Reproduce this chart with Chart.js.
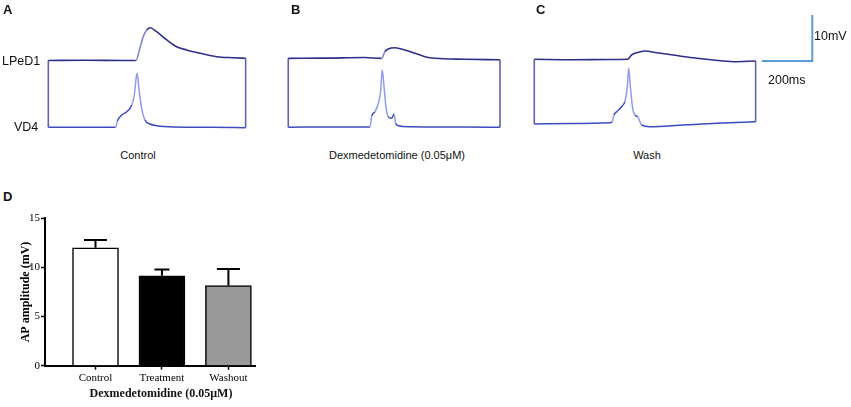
<!DOCTYPE html>
<html>
<head>
<meta charset="utf-8">
<script src="https://cdn.jsdelivr.net/npm/chart.js@4.4.1/dist/chart.umd.min.js"></script>
<style>
    body { margin: 0; background: #fff; }
    #wrap { position: relative; width: 851px; height: 407px; overflow: hidden; }
    canvas { position: absolute; }
    .lbl { position: absolute; font-family: "Liberation Sans", Arial, sans-serif; color: #111; line-height: 1; white-space: nowrap; transform: translateY(-50%); }
    .mid { transform: translate(-50%, -50%); }
    .letter { font-weight: bold; font-size: 13px; }
    .serif { font-family: "Liberation Serif", "Times New Roman", serif; font-weight: bold; font-size: 12px; }
</style>
</head>
<body>
<div id="wrap">
    <canvas id="traces" width="851" height="140" style="left:0;top:0"></canvas>
    <canvas id="bars" width="270" height="202" style="left:0;top:205px"></canvas>

    <div class="lbl letter" style="left:3px;top:9px">A</div>
    <div class="lbl letter" style="left:291px;top:9px">B</div>
    <div class="lbl letter" style="left:536px;top:9px">C</div>
    <div class="lbl letter" style="left:3px;top:196px">D</div>

    <div class="lbl" style="left:2px;top:61px;font-size:12.5px">LPeD1</div>
    <div class="lbl" style="left:14px;top:127px;font-size:12.5px">VD4</div>
    <div class="lbl mid" style="left:138px;top:155px;font-size:11px">Control</div>
    <div class="lbl mid" style="left:397px;top:155px;font-size:11px">Dexmedetomidine (0.05μM)</div>
    <div class="lbl mid" style="left:647px;top:155px;font-size:11px">Wash</div>
    <div class="lbl" style="left:814px;top:36px;font-size:12.5px">10mV</div>
    <div class="lbl" style="left:768px;top:80px;font-size:12.5px">200ms</div>

    <div class="lbl mid serif" style="left:161px;top:393px">Dexmedetomidine (0.05μM)</div>
</div>
<script>
// recordings: [time ms, mV relative to baseline]
const lpedA = [[0, 0], [150, 0.05], [300, 0], [346, 0], [362, 2.65], [375, 5.17], [389, 6.63], [402, 7.13], [428, 6.26], [468, 4.46], [507, 3.0], [547, 2.28], [600, 1.57], [666, 0.83], [731, 0.61], [780, 0.48]];
const vd4A = [[0, 0], [266, 0], [273, 1.37], [290, 2.67], [310, 3.39], [330, 4.85], [340, 7.02], [347, 10.65], [351, 11.74], [358, 8.48], [369, 4.13], [382, 1.59], [402, 0.72], [428, 0.35], [500, 0.07], [640, 0], [780, -0.1]];
const lpedB = [[0, 0.1], [150, 0.15], [300, 0.28], [369, 0.1], [382, 1.54], [395, 2.13], [422, 2.41], [461, 1.91], [501, 1.2], [540, 0.46], [580, 0.11], [700, -0.1], [837, -0.2]];
const vd4B = [[0, -0.05], [200, 0], [323, 0], [330, 2.39], [343, 3.33], [356, 5.15], [365, 7.67], [371.5, 12.39], [378, 9.13], [386, 4.41], [395, 2.24], [409, 1.89], [418, 2.76], [424.5, 0.8], [435, 0.28], [481, 0.07], [700, 0], [837, -0.07]];
const lpedC = [[0, 0.15], [150, 0.05], [300, 0.1], [368, 0.15], [385, 1.09], [405, 1.59], [437, 1.96], [484, 1.59], [549, 1.09], [628, 0.5], [707, 0], [787, -0.37], [875, -0.22]];
const vd4C = [[0, 0], [150, 0.1], [300, 0.28], [308, 0.5], [315, 1.96], [326, 2.67], [345, 3.76], [358, 4.85], [368, 8.11], [373, 12.11], [381, 7.39], [389, 3.41], [398, 1.96], [409, 1.59], [415, 0.87], [424.5, -0.22], [457, -0.59], [589, -0.22], [721, 0.15], [875, 0.5]];
const scaleBarMs = 200;
const scaleBarMv = 10;

// bar chart
const categories = ['Control', 'Treatment', 'Washout'];
const means = [12.0, 9.15, 8.15];
const sems = [0.8, 0.65, 1.7];
const yTicks = [0, 5, 10, 15];

// where each panel sits on the shared trace axes (ms / mV)
const panels = [
    {lped: lpedA, vd4: vd4A, t0: 191, lpedBase: 17.28, vd4Base: 2.76},
    {lped: lpedB, vd4: vd4B, t0: 1139.5, lpedBase: 17.65, vd4Base: 2.83},
    {lped: lpedC, vd4: vd4C, t0: 2112, lpedBase: 17.39, vd4Base: 3.48}
];
const scaleBarAt = {x: 3011, y: 17.17};

function shift(trace, t0, base) {
    return trace.map(p => ({x: p[0] + t0, y: p[1] + base}));
}
function steep(dark, light) {
    return ctx => Math.abs((ctx.p1.y - ctx.p0.y) / (ctx.p1.x - ctx.p0.x || 0.01)) > 1.8 ? light : dark;
}

let traceSets = [];
let edges = [];
panels.forEach(p => {
    let top = shift(p.lped, p.t0, p.lpedBase);
    let bottom = shift(p.vd4, p.t0, p.vd4Base);
    traceSets.push({
        data: top, borderColor: '#2d3088', borderWidth: 1.6,
        cubicInterpolationMode: 'monotone',
        segment: {borderColor: steep('#2d3088', '#7f86cc')}
    });
    traceSets.push({
        data: bottom, borderColor: '#3c4cc0', borderWidth: 1.5,
        cubicInterpolationMode: 'monotone',
        segment: {borderColor: steep('#3c4cc0', '#909ce6')}
    });
    edges.push({x: top[0].x, y: top[0].y}, {x: bottom[0].x, y: bottom[0].y}, {x: bottom[0].x, y: null});
    let a = top[top.length - 1], b = bottom[bottom.length - 1];
    edges.push({x: a.x, y: a.y}, {x: b.x, y: b.y}, {x: b.x, y: null});
});
traceSets.push({data: edges, borderColor: '#5e62b0', borderWidth: 1.6, tension: 0, spanGaps: false});
traceSets.push({
    data: [
        {x: scaleBarAt.x, y: scaleBarAt.y},
        {x: scaleBarAt.x + scaleBarMs, y: scaleBarAt.y},
        {x: scaleBarAt.x + scaleBarMs, y: scaleBarAt.y + scaleBarMv}
    ],
    borderColor: '#5b9bd5', borderWidth: 2, tension: 0
});

new Chart(document.getElementById('traces'), {
    type: 'line',
    data: {datasets: traceSets},
    options: {
        responsive: false,
        animation: false,
        layout: {padding: 0},
        elements: {point: {radius: 0}},
        scales: {
            x: {type: 'linear', min: 0, max: 3364, display: false},
            y: {type: 'linear', min: 0, max: 30.43, display: false}
        },
        plugins: {legend: {display: false}, tooltip: {enabled: false}}
    }
});

const errorBars = {
    id: 'errorBars',
    afterDatasetsDraw(chart, args, opts) {
        const {ctx, scales: {x, y}} = chart;
        ctx.save();
        ctx.strokeStyle = '#000';
        ctx.lineWidth = 2;
        means.forEach((m, i) => {
            let px = x.getPixelForValue(i + 1);
            let base = y.getPixelForValue(m);
            let top = y.getPixelForValue(m + sems[i]);
            let half = opts.capWidths[i] / 2;
            ctx.beginPath();
            ctx.moveTo(px, base);
            ctx.lineTo(px, top);
            ctx.moveTo(px - half, top);
            ctx.lineTo(px + half, top);
            ctx.stroke();
        });
        ctx.restore();
    }
};

const serif = {family: '"Liberation Serif", "Times New Roman", serif', size: 11};

new Chart(document.getElementById('bars'), {
    type: 'bar',
    data: {
        datasets: [{
            data: means.map((m, i) => ({x: i + 1, y: m})),
            backgroundColor: ['#ffffff', '#000000', '#999999'],
            borderColor: '#000',
            borderWidth: 1.5,
            barThickness: 46
        }]
    },
    plugins: [errorBars],
    options: {
        responsive: false,
        animation: false,
        layout: {padding: {top: 13.3, right: 15, left: 0, bottom: 0}},
        scales: {
            x: {
                type: 'linear', min: 0.24, max: 3.4, offset: false,
                afterBuildTicks: s => { s.ticks = categories.map((c, i) => ({value: i + 1})); },
                afterFit: s => { s.height = 41.3; },
                grid: {display: true, offset: false, drawOnChartArea: false, tickLength: 4, tickWidth: 1.5, color: '#000'},
                border: {color: '#000', width: 2},
                ticks: {
                    font: serif, color: '#000', padding: 2, maxRotation: 0, autoSkip: false,
                    callback: v => categories[v - 1]
                }
            },
            y: {
                min: 0, max: 15,
                afterBuildTicks: s => { s.ticks = yTicks.map(v => ({value: v})); },
                afterFit: s => { s.width = 45; },
                grid: {display: true, drawOnChartArea: false, tickLength: 4, tickWidth: 1.5, color: '#000'},
                border: {color: '#000', width: 2},
                ticks: {font: serif, color: '#000', padding: 1},
                title: {
                    display: true, text: 'AP amplitude (mV)', color: '#000',
                    font: {family: serif.family, size: 12, weight: 'bold'},
                    padding: {top: 18.8, bottom: 0}
                }
            }
        },
        plugins: {
            legend: {display: false},
            tooltip: {enabled: false},
            errorBars: {capWidths: [23, 15, 23]}
        }
    }
});
</script>
</body>
</html>
